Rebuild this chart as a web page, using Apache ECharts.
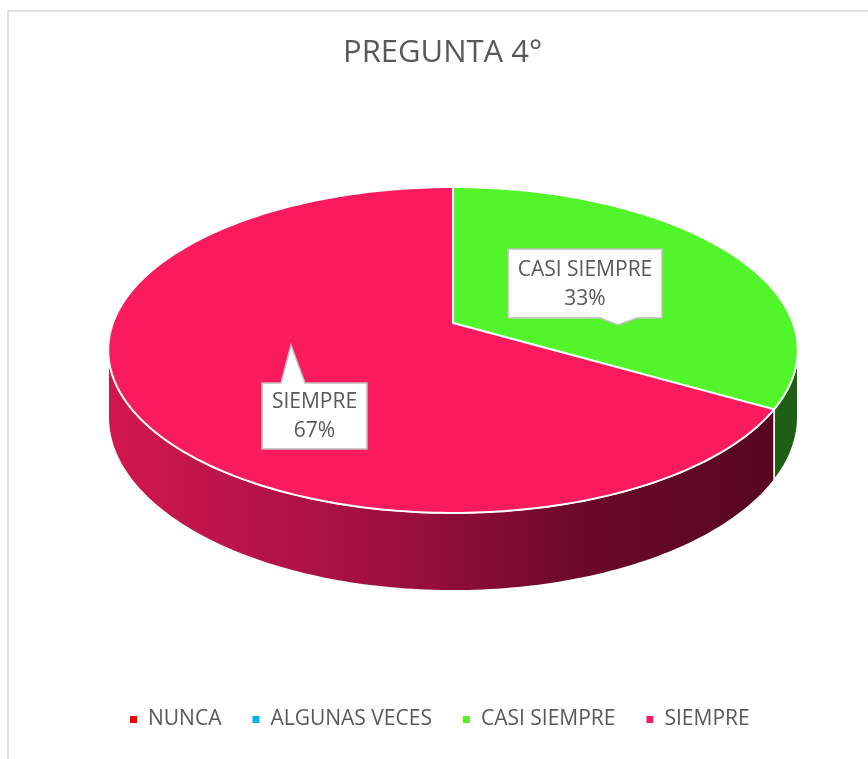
<!DOCTYPE html>
<html>
<head>
<meta charset="utf-8">
<title>PREGUNTA 4°</title>
<script src="https://cdn.jsdelivr.net/npm/echarts@6/dist/echarts.min.js"></script>
<style>
  html, body { margin: 0; padding: 0; background: #fff; }
  #chart { width: 868px; height: 759px; }
</style>
</head>
<body>
<div id="chart"></div>
<script>
// data
const categories = ['NUNCA', 'ALGUNAS VECES', 'CASI SIEMPRE', 'SIEMPRE'];
const values = [0, 0, 1, 2];
const chartTitle = 'PREGUNTA 4°';

// styles
const topColors = ['#FF0000', '#00B0F0', '#52F52A', '#FA1A5E'];
const sideColors = [
  '#990000',
  '#006a90',
  '#215E15',
  {
    type: 'linear', x: 107, y: 0, x2: 797, y2: 0, global: true,
    colorStops: [
      {offset: 0, color: '#D2174F'},
      {offset: 0.4, color: '#A01040'},
      {offset: 0.7, color: '#6A0828'},
      {offset: 1, color: '#55061F'}
    ]
  }
];
const textColor = '#595959';
const font = '"Open Sans", "Noto Sans", sans-serif';

// perspective pie (tilted disc seen by a camera)
const pie = {cx: 453, y0: -634, top: 957, bottom: 1022, S: 340, c: 0.1656};
// data label callouts, box centre + pointer
const callouts = {
  2: {cx: 585, cy: 283.5, w: 154, h: 69, side: 'bottom', tip: [618, 325], base: [600, 637]},
  3: {cx: 314.5, cy: 416, w: 105, h: 66, side: 'top', tip: [291, 345], base: [281, 305]}
};

const total = values.reduce((a, b) => a + b, 0);

function proj(theta, r, level) {
  const k = 1 + pie.c * r * Math.cos(theta);
  return [pie.cx + pie.S * r * Math.sin(theta) / k, pie.y0 + pie[level] / k];
}

function arc(a0, a1, level) {
  const pts = [];
  const n = Math.max(2, Math.ceil((a1 - a0) / (Math.PI / 180)));
  for (let k = 0; k <= n; k++) pts.push(proj(a0 + (a1 - a0) * k / n, 1, level));
  return pts;
}

function calloutPoints(o) {
  const l = o.cx - o.w / 2, r = o.cx + o.w / 2, t = o.cy - o.h / 2, b = o.cy + o.h / 2;
  if (o.side === 'bottom') {
    return [[l, t], [r, t], [r, b], [o.base[1], b], o.tip, [o.base[0], b], [l, b]];
  }
  return [[l, t], [o.base[0], t], o.tip, [o.base[1], t], [r, t], [r, b], [l, b]];
}

function renderSlice(params, api) {
  const i = api.value(0);
  const v = api.value(1);
  if (!v) return;
  let before = 0;
  for (let k = 0; k < i; k++) before += values[k];
  const a0 = 2 * Math.PI * before / total;
  const a1 = a0 + 2 * Math.PI * v / total;
  const children = [];

  // visible outer wall, between the silhouette angles
  const sil = Math.acos(-pie.c);
  const s0 = Math.max(a0, sil), s1 = Math.min(a1, 2 * Math.PI - sil);
  if (s1 > s0) {
    const pts = arc(s0, s1, 'top').concat(arc(s0, s1, 'bottom').reverse());
    children.push({
      type: 'polygon', z2: 1,
      shape: {points: pts},
      style: {fill: sideColors[i], stroke: '#fff', lineWidth: 1.5}
    });
  }

  // top face
  children.push({
    type: 'polygon', z2: 10,
    shape: {points: [proj(0, 0, 'top')].concat(arc(a0, a1, 'top'))},
    style: {fill: topColors[i], stroke: '#fff', lineWidth: 2, lineJoin: 'round'}
  });

  const o = callouts[i];
  if (o) {
    children.push({
      type: 'polygon', z2: 30,
      shape: {points: calloutPoints(o)},
      style: {fill: '#fff', stroke: '#BFBFBF', lineWidth: 1.5}
    });
    children.push({
      type: 'text', z2: 31, x: o.cx, y: o.cy + 1,
      style: {
        text: categories[i] + '\n' + Math.round(v / total * 100) + '%',
        font: '21px ' + font, fill: textColor,
        align: 'center', verticalAlign: 'middle', lineHeight: 29
      }
    });
  }
  return {type: 'group', children: children};
}

const chart = echarts.init(document.getElementById('chart'));
chart.setOption({
  animation: false,
  backgroundColor: '#fff',
  title: {
    text: chartTitle,
    left: 343,
    top: 38,
    padding: 0,
    textStyle: {fontFamily: font, fontSize: 31, fontWeight: 'normal', color: textColor}
  },
  legend: {
    data: categories,
    left: 130,
    top: 709,
    padding: 0,
    icon: 'rect',
    itemWidth: 7,
    itemHeight: 7,
    itemGap: 31,
    selectedMode: false,
    textStyle: {fontFamily: font, fontSize: 21, color: textColor, padding: [0, 0, 0, 6]}
  },
  graphic: [{
    type: 'rect', silent: true,
    shape: {x: 8, y: 11, width: 900, height: 800},
    style: {fill: 'none', stroke: '#D9D9D9', lineWidth: 1.5}
  }],
  series: categories.map((name, i) => ({
    type: 'custom',
    name: name,
    coordinateSystem: 'none',
    itemStyle: {color: topColors[i]},
    data: [[i, values[i]]],
    renderItem: renderSlice
  }))
});
</script>
</body>
</html>
